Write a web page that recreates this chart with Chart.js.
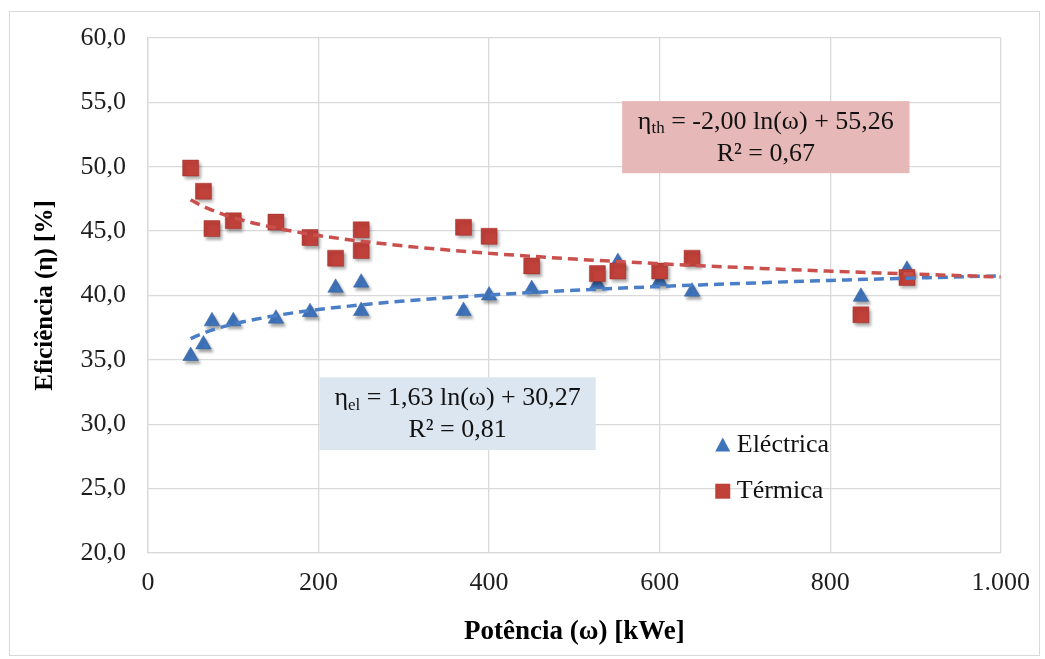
<!DOCTYPE html>
<html>
<head>
<meta charset="utf-8">
<script src="https://cdn.jsdelivr.net/npm/chart.js@4.4.1/dist/chart.umd.min.js"></script>
<style>
  html, body { margin: 0; padding: 0; background: #fff; }
  canvas { display: block; }
</style>
</head>
<body>
<canvas id="chart" width="1045" height="659"></canvas>
<script>
// measured points (power in kWe, efficiency in %)
const power = [50, 65, 75, 100, 150, 190, 220, 250, 250, 370, 400, 450, 527, 551, 600, 638, 836, 890];
const effElectrica = [35.3, 36.2, 38.0, 38.0, 38.2, 38.7, 40.6, 41.0, 38.8, 38.8, 40.0, 40.5, 40.9, 42.6, 41.1, 40.3, 39.9, 42.0];
const effTermica = [49.9, 48.1, 45.2, 45.8, 45.7, 44.5, 42.9, 45.1, 43.5, 45.3, 44.6, 42.3, 41.7, 41.9, 41.9, 42.9, 38.5, 41.4];

// trend lines
const trendX = [50, 60, 75, 100, 150, 200, 300, 400, 500, 600, 700, 800, 900, 1000];
const trendTh = [47.44, 47.07, 46.63, 46.05, 45.24, 44.66, 43.85, 43.28, 42.83, 42.47, 42.16, 41.89, 41.66, 41.44];
const trendEl = [36.65, 36.94, 37.31, 37.78, 38.44, 38.91, 39.57, 40.04, 40.40, 40.70, 40.95, 41.17, 41.36, 41.53];

const seriesNames = ['Eléctrica', 'Térmica'];
const xTicks = [0, 200, 400, 600, 800, 1000];
const yTicks = [20, 25, 30, 35, 40, 45, 50, 55, 60];

const FONT = '"Liberation Serif", "Times New Roman", serif';
const RED = '#C0403A';
const BLUE = '#3F73BA';

function pts(xs, ys) {
    return xs.map(function (x, i) { return { x: x, y: ys[i] }; });
}

// equation boxes and legend, placed in data units
const notes = [
    { x0: 556, x1: 893, y0: 55.1, y1: 49.5, fill: '#E6B9B8', sub: 'th', eq: ' = -2,00 ln(ω) + 55,26', r2: 'R² = 0,67' },
    { x0: 201, x1: 525, y0: 33.65, y1: 28.0, fill: '#DCE6F1', sub: 'el', eq: ' = 1,63 ln(ω) + 30,27', r2: 'R² = 0,81' }
];
const legendAt = { x: 674, y: [28.35, 24.8] };

const frame = {
    id: 'frame',
    beforeDraw: function (chart) {
        const c = chart.ctx;
        c.save();
        c.fillStyle = '#fff';
        c.fillRect(0, 0, chart.width, chart.height);
        c.strokeStyle = '#D9D9D9';
        c.lineWidth = 1;
        c.strokeRect(9.5, 11.5, 1030, 644);
        c.restore();
    },
    beforeDatasetDraw: function (chart, args) {
        if (args.index >= 2) {
            const c = chart.ctx;
            c.save();
            c.shadowColor = 'rgba(0,0,0,0.35)';
            c.shadowBlur = 3;
            c.shadowOffsetX = 2;
            c.shadowOffsetY = 3;
        }
    },
    afterDatasetDraw: function (chart, args) {
        if (args.index >= 2) chart.ctx.restore();
    },
    afterDraw: function (chart) {
        const c = chart.ctx;
        const sx = chart.scales.x, sy = chart.scales.y;
        c.save();
        notes.forEach(function (n) {
            const l = sx.getPixelForValue(n.x0), r = sx.getPixelForValue(n.x1);
            const t = sy.getPixelForValue(n.y0), b = sy.getPixelForValue(n.y1);
            c.fillStyle = n.fill;
            c.fillRect(l, t, r - l, b - t);
            const cx = (l + r) / 2;
            const y1 = t + (b - t) * 0.29, y2 = t + (b - t) * 0.73;
            c.fillStyle = '#111';
            c.textBaseline = 'middle';
            c.font = '26px ' + FONT;
            const wEta = c.measureText('η').width;
            const wEq = c.measureText(n.eq).width;
            c.font = '17px ' + FONT;
            const wSub = c.measureText(n.sub).width;
            let x = cx - (wEta + wSub + wEq) / 2;
            c.textAlign = 'left';
            c.font = '26px ' + FONT;
            c.fillText('η', x, y1);
            x += wEta;
            c.font = '17px ' + FONT;
            c.fillText(n.sub, x, y1 + 7);
            x += wSub;
            c.font = '26px ' + FONT;
            c.fillText(n.eq, x, y1);
            c.textAlign = 'center';
            c.fillText(n.r2, cx, y2);
        });

        // legend
        const lx = sx.getPixelForValue(legendAt.x);
        chart.data.datasets.slice(2).forEach(function (ds, i) {
            const ly = sy.getPixelForValue(legendAt.y[i]);
            c.fillStyle = ds.backgroundColor;
            c.beginPath();
            if (ds.pointStyle === 'triangle') {
                c.moveTo(lx, ly - 8);
                c.lineTo(lx + 7.5, ly + 6);
                c.lineTo(lx - 7.5, ly + 6);
                c.closePath();
            } else {
                c.rect(lx - 7.5, ly - 7.5, 15, 15);
            }
            c.fill();
            c.fillStyle = '#111';
            c.font = '26px ' + FONT;
            c.textAlign = 'left';
            c.textBaseline = 'middle';
            c.fillText(ds.label, lx + 14, ly);
        });
        c.restore();
    }
};

const ctx = document.getElementById('chart').getContext('2d');
const chart = new Chart(ctx, {
    type: 'scatter',
    data: {
        datasets: [{
            label: 'trend th',
            data: pts(trendX, trendTh),
            showLine: true,
            borderColor: '#C9504C',
            borderWidth: 3.5,
            borderDash: [10, 6],
            pointRadius: 0,
            cubicInterpolationMode: 'monotone',
            order: 0
        }, {
            label: 'trend el',
            data: pts(trendX, trendEl),
            showLine: true,
            borderColor: '#4A7EC6',
            borderWidth: 3.5,
            borderDash: [10, 6],
            pointRadius: 0,
            cubicInterpolationMode: 'monotone',
            order: 0
        }, {
            label: seriesNames[0],
            data: pts(power, effElectrica),
            pointStyle: 'triangle',
            pointRadius: 9,
            backgroundColor: BLUE,
            borderColor: '#2E5E9E',
            borderWidth: 0.5,
            order: 2
        }, {
            label: seriesNames[1],
            data: pts(power, effTermica),
            pointStyle: 'rect',
            pointRadius: 11.3,
            backgroundColor: RED,
            borderColor: '#9E2C27',
            borderWidth: 0.5,
            order: 1
        }]
    },
    options: {
        responsive: false,
        animation: false,
        layout: { padding: { left: 0, top: 38, right: 43, bottom: 0 } },
        plugins: {
            legend: { display: false },
            tooltip: { enabled: false }
        },
        scales: {
            x: {
                type: 'linear',
                min: 0,
                max: 1000,
                afterFit: function (s) { s.height = 106; },
                afterBuildTicks: function (s) { s.ticks = xTicks.map(function (v) { return { value: v }; }); },
                grid: { color: '#D9D9D9', lineWidth: 1.3, drawTicks: false },
                border: { color: '#D9D9D9', width: 1.3 },
                ticks: {
                    padding: 15,
                    color: '#1e1e1e',
                    font: { family: FONT, size: 26 },
                    callback: function (v) { return String(v).replace(/\B(?=(\d{3})+(?!\d))/g, '.'); }
                },
                title: {
                    display: true,
                    text: 'Potência (ω) [kWe]',
                    color: '#000',
                    font: { family: FONT, size: 27, weight: 'bold' },
                    padding: { top: 0, bottom: 11 }
                }
            },
            y: {
                min: 20,
                max: 60,
                afterFit: function (s) { s.width = 148; },
                afterBuildTicks: function (s) { s.ticks = yTicks.map(function (v) { return { value: v }; }); },
                grid: { color: '#D9D9D9', lineWidth: 1.3, drawTicks: false },
                border: { color: '#D9D9D9', width: 1.3 },
                ticks: {
                    padding: 22,
                    color: '#1e1e1e',
                    font: { family: FONT, size: 26 },
                    callback: function (v) { return v.toFixed(1).replace('.', ','); }
                },
                title: {
                    display: true,
                    text: 'Eficiência (η) [%]',
                    color: '#000',
                    font: { family: FONT, size: 25, weight: 'bold' },
                    padding: { top: 31, bottom: 0 }
                }
            }
        }
    },
    plugins: [frame]
});
</script>
</body>
</html>
